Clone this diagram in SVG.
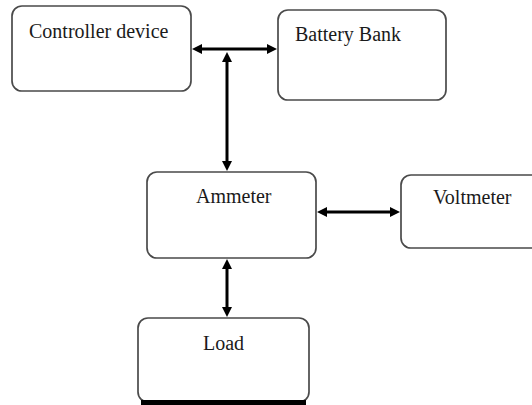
<svg xmlns="http://www.w3.org/2000/svg" width="532" height="405" viewBox="0 0 532 405">
<style>
.box{fill:#fff;stroke:#4a4a4a;stroke-width:1.7}
.lbl{font-family:"Liberation Serif","Times New Roman",serif;font-size:20px;fill:#1a1a1a}
.conn{fill:none;stroke:#000;stroke-width:3;marker-start:url(#ah);marker-end:url(#ah)}
</style>
<defs>
<marker id="ah" viewBox="0 0 10 10" refX="4" refY="5" markerWidth="10" markerHeight="10" markerUnits="userSpaceOnUse" orient="auto-start-reverse">
<path d="M0,0 L10,5 L0,10 z" fill="#000"/>
</marker>
</defs>
<rect width="532" height="405" fill="#fff"/>
<g id="controller">
<rect class="box" x="12" y="6" width="179" height="85" rx="10"/>
<text class="lbl" x="29" y="38">Controller device</text>
</g>
<g id="battery">
<rect class="box" x="278" y="10" width="168" height="90" rx="10"/>
<text class="lbl" x="295" y="41">Battery Bank</text>
</g>
<g id="ammeter">
<rect class="box" x="147" y="172" width="169" height="86" rx="10"/>
<text class="lbl" x="196" y="203">Ammeter</text>
</g>
<g id="voltmeter">
<rect class="box" x="401" y="175" width="150" height="73" rx="10"/>
<text class="lbl" x="433" y="204">Voltmeter</text>
</g>
<g id="load">
<rect class="box" x="138" y="318" width="171" height="84" rx="10"/>
<rect x="141" y="400" width="165" height="5" fill="#000"/>
<text class="lbl" x="203" y="350">Load</text>
</g>
<g id="connectors">
<path class="conn" d="M198,49 H271"/>
<path class="conn" d="M227,58 V165"/>
<path class="conn" d="M323,212 H394"/>
<path class="conn" d="M227,265 V311"/>
</g>
</svg>
